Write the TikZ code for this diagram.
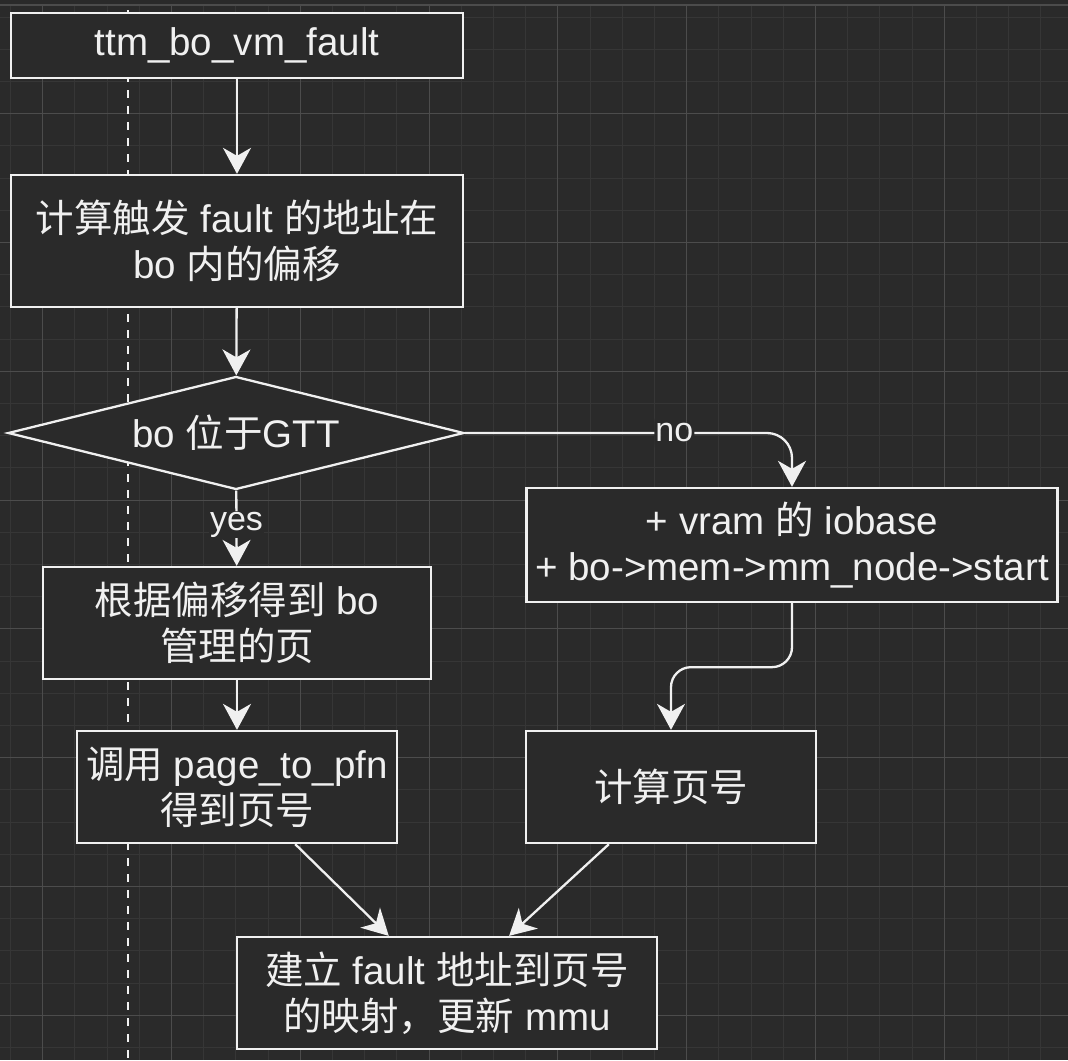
\documentclass[tikz,border=0pt]{standalone}
\usepackage{fontspec}
\setmainfont{Liberation Sans}
\newfontfamily\cjk{Noto Sans CJK SC}
\usetikzlibrary{arrows.meta, shapes.geometric}
\definecolor{bg}{HTML}{2A2A2A}
\definecolor{fg}{HTML}{F0F0F0}
\definecolor{gridmin}{HTML}{363636}
\definecolor{gridmaj}{HTML}{4C4C4C}

\begin{document}
\begin{tikzpicture}[x=1pt, y=-1pt,
    blk/.style={draw=fg, fill=bg, line width=2.3pt, text=fg, inner sep=0pt,
        align=center, font=\fontsize{38.5}{46}\selectfont},
    dec/.style={blk, diamond, shape aspect=4},
    lbl/.style={fill=bg, text=fg, inner sep=1pt, font=\fontsize{34}{40}\selectfont},
    arr/.style={draw=fg, line width=2.3pt, -{Stealth[length=26pt, width=28pt, inset=8pt]}}]
    \useasboundingbox (0,0) rectangle (1068,1060);
    \fill[bg] (0,0) rectangle (1068,1060);
    % grid
    \foreach \i in {0,...,32} {
        \draw[gridmin, line width=1pt] ({10.5+32.2*\i},5) -- ({10.5+32.2*\i},1060);
        \draw[gridmin, line width=1pt] (0,{17.1+32.2*\i}) -- (1068,{17.1+32.2*\i});
    }
    \foreach \i in {0,...,7}
        \draw[gridmaj, line width=1pt] ({42.7+128.8*\i},5) -- ({42.7+128.8*\i},1060);
    \foreach \i in {1,...,8}
        \draw[gridmaj, line width=1pt] (0,{-15.1+128.8*\i}) -- (1068,{-15.1+128.8*\i});
    \draw[gridmaj, line width=1.2pt] (0,5) -- (1068,5);
    \draw[fg!85, line width=1.4pt, dash pattern=on 8pt off 8pt] (128,10) -- (128,1060);

    % steps
    \node[blk, minimum width=452pt, minimum height=65pt] (fault) at (237,45.5) {ttm\_bo\_vm\_fault};
    \node[blk, minimum width=452pt, minimum height=132pt] (offs) at (237,241)
        {{\cjk 计算触发} fault {\cjk 的地址在}\\bo {\cjk 内的偏移}};
    \node[dec, minimum width=456pt, minimum height=113pt] (gtt) at (236,433) {bo {\cjk 位于}GTT};
    \node[blk, minimum width=531pt, minimum height=114pt] (vram) at (792,545)
        {+ vram {\cjk 的} iobase\\+ bo->mem->mm\_node->start};
    \node[blk, minimum width=388pt, minimum height=112pt] (page) at (237,623)
        {{\cjk 根据偏移得到} bo\\{\cjk 管理的页}};
    \node[blk, minimum width=320pt, minimum height=112pt] (pfn) at (237,787)
        {{\cjk 调用} page\_to\_pfn\\{\cjk 得到页号}};
    \node[blk, minimum width=290pt, minimum height=112pt] (calc) at (671,787) {{\cjk 计算页号}};
    \node[blk, minimum width=420pt, minimum height=112pt] (map) at (447,993)
        {{\cjk 建立} fault {\cjk 地址到页号}\\{\cjk 的映射，更新} mmu};

    % arrows
    \draw[arr] (fault) -- (offs);
    \draw[arr] (offs) -- (gtt);
    \draw[arr] (gtt) -- node[lbl, pos=0.45] {yes} (page);
    \draw[arr, rounded corners=25pt] (gtt.east) -| node[lbl, pos=0.32] {no} (vram.north);
    \draw[arr, rounded corners=20pt] (vram.south) -- ++(0,64) -| (calc.north);
    \draw[arr] (page) -- (pfn);
    \draw[arr] (pfn) -- (map);
    \draw[arr] (calc) -- (map);
\end{tikzpicture}
\end{document}
